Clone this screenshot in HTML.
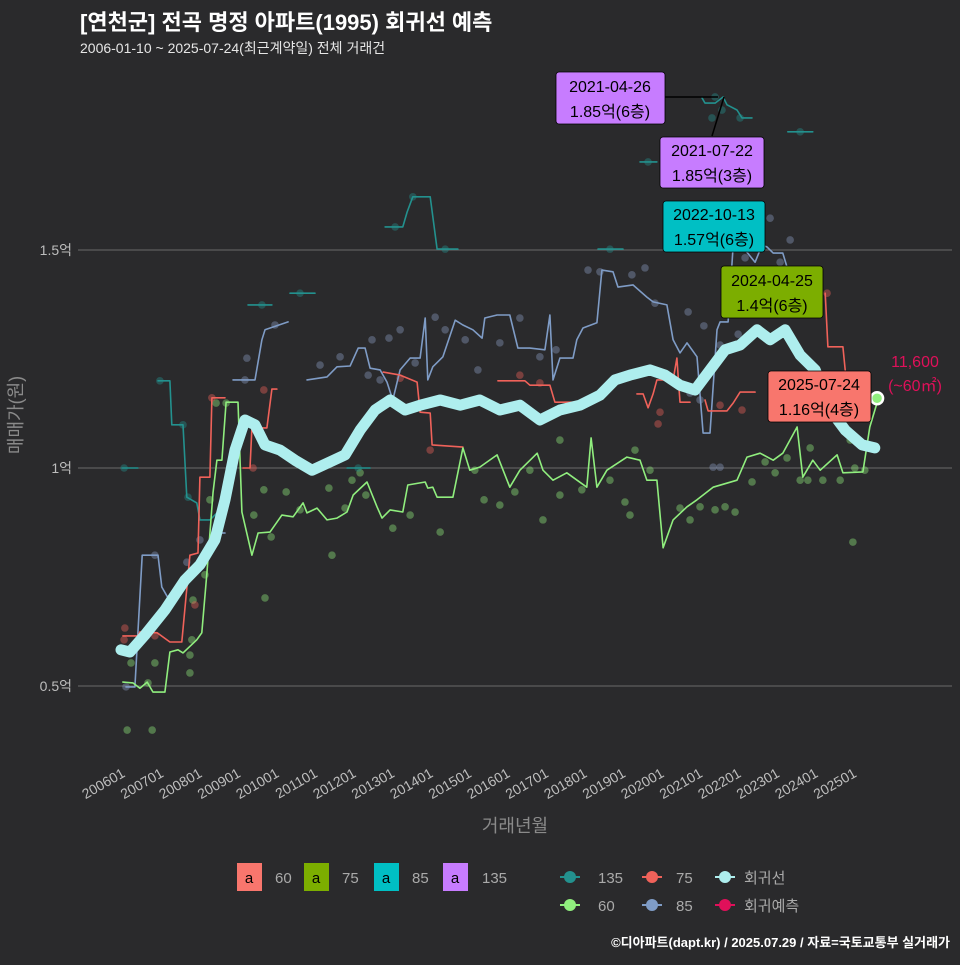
<!DOCTYPE html>
<html><head><meta charset="utf-8">
<style>
html,body{margin:0;padding:0;background:#2a2a2c;}
svg text{font-family:"Liberation Sans","Noto Sans CJK KR",sans-serif;}
</style></head>
<body>
<svg id="chart" width="960" height="960" viewBox="0 0 960 960" xmlns="http://www.w3.org/2000/svg">
<rect width="960" height="960" fill="#2a2a2c"/>
<text x="80" y="30" fill="#ffffff" font-size="22" font-weight="bold">[연천군] 전곡 명정 아파트(1995) 회귀선 예측</text>
<text x="80" y="53" fill="#e6e6e6" font-size="14">2006-01-10 ~ 2025-07-24(최근계약일) 전체 거래건</text>
<g id="grid"></g>
<g id="yticks"></g>
<g id="xticks"></g>
<g id="dots"></g>
<g id="lines"></g>
<text transform="translate(22,415) rotate(-90)" text-anchor="middle" fill="#8a8a8a" font-size="18">매매가(원)</text>
<text x="515" y="832" text-anchor="middle" fill="#8a8a8a" font-size="18">거래년월</text>

<g>
<line x1="665" y1="97" x2="718" y2="97" stroke="#000" stroke-width="1.5"/>
<line x1="712" y1="136" x2="724" y2="97" stroke="#000" stroke-width="1.5"/>
<g>
<rect x="556" y="72" width="109" height="52" rx="3" fill="#c77cff" stroke="#000" stroke-width="0.8"/>
<text x="610" y="92" text-anchor="middle" font-size="16" fill="#000">2021-04-26</text>
<text x="610" y="117" text-anchor="middle" font-size="16" fill="#000">1.85억(6층)</text></g>
<g>
<rect x="660" y="137" width="104" height="51" rx="3" fill="#c77cff" stroke="#000" stroke-width="0.8"/>
<text x="712" y="156" text-anchor="middle" font-size="16" fill="#000">2021-07-22</text>
<text x="712" y="181" text-anchor="middle" font-size="16" fill="#000">1.85억(3층)</text></g>
<g>
<rect x="663" y="201" width="102" height="51" rx="3" fill="#00bfc4" stroke="#000" stroke-width="0.8"/>
<text x="714" y="220" text-anchor="middle" font-size="16" fill="#000">2022-10-13</text>
<text x="714" y="245" text-anchor="middle" font-size="16" fill="#000">1.57억(6층)</text></g>
<g>
<rect x="721" y="266" width="102" height="52" rx="3" fill="#7cae00" stroke="#000" stroke-width="0.8"/>
<text x="772" y="286" text-anchor="middle" font-size="16" fill="#000">2024-04-25</text>
<text x="772" y="311" text-anchor="middle" font-size="16" fill="#000">1.4억(6층)</text></g>
<g>
<rect x="768" y="371" width="103" height="51" rx="3" fill="#f8766d" stroke="#000" stroke-width="0.8"/>
<text x="819" y="390" text-anchor="middle" font-size="16" fill="#000">2025-07-24</text>
<text x="819" y="415" text-anchor="middle" font-size="16" fill="#000">1.16억(4층)</text></g>
<text x="915" y="367" text-anchor="middle" font-size="16" fill="#e0105a">11,600</text>
<text x="915" y="391" text-anchor="middle" font-size="16" fill="#e0105a">(~60㎡)</text>
</g>

<g>
<rect x="237" y="863" width="25" height="28" fill="#f8766d"/><text x="249" y="883" text-anchor="middle" font-size="15" fill="#000">a</text><text x="275" y="883" font-size="15" fill="#aaa">60</text>
<rect x="304" y="863" width="25" height="28" fill="#7cae00"/><text x="316" y="883" text-anchor="middle" font-size="15" fill="#000">a</text><text x="342" y="883" font-size="15" fill="#aaa">75</text>
<rect x="374" y="863" width="25" height="28" fill="#00bfc4"/><text x="386" y="883" text-anchor="middle" font-size="15" fill="#000">a</text><text x="412" y="883" font-size="15" fill="#aaa">85</text>
<rect x="443" y="863" width="25" height="28" fill="#c77cff"/><text x="455" y="883" text-anchor="middle" font-size="15" fill="#000">a</text><text x="482" y="883" font-size="15" fill="#aaa">135</text>
</g>
<g>
<g><line x1="560" y1="877" x2="580" y2="877" stroke="#23918e" stroke-width="2"/><circle cx="570" cy="877" r="6" fill="#23918e"/><text x="598" y="883" font-size="15" fill="#aaa">135</text></g>
<g><line x1="642" y1="877" x2="662" y2="877" stroke="#f0625a" stroke-width="2"/><circle cx="652" cy="877" r="6" fill="#f0625a"/><text x="676" y="883" font-size="15" fill="#aaa">75</text></g>
<g><line x1="715" y1="877" x2="735" y2="877" stroke="#aeeeee" stroke-width="2"/><circle cx="725" cy="877" r="6" fill="#aeeeee"/><text x="744" y="883" font-size="15" fill="#aaa">회귀선</text></g>
<g><line x1="560" y1="905" x2="580" y2="905" stroke="#90ee7e" stroke-width="2"/><circle cx="570" cy="905" r="6" fill="#90ee7e"/><text x="598" y="911" font-size="15" fill="#aaa">60</text></g>
<g><line x1="642" y1="905" x2="662" y2="905" stroke="#7f9cc6" stroke-width="2"/><circle cx="652" cy="905" r="6" fill="#7f9cc6"/><text x="676" y="911" font-size="15" fill="#aaa">85</text></g>
<g><line x1="715" y1="905" x2="735" y2="905" stroke="#e0105a" stroke-width="2"/><circle cx="725" cy="905" r="6" fill="#e0105a"/><text x="744" y="911" font-size="15" fill="#aaa">회귀예측</text></g>
</g>
<text x="950" y="947" text-anchor="end" font-size="13" font-weight="bold" fill="#ffffff">©디아파트(dapt.kr) / 2025.07.29 / 자료=국토교통부 실거래가</text>
</svg>
<script>
const yTickVals=[0.5,1,1.5];
const yTickLabels=["0.5억","1억","1.5억"];
const xTickYears=[2006,2007,2008,2009,2010,2011,2012,2013,2014,2015,2016,2017,2018,2019,2020,2021,2022,2023,2024,2025];
const xTickLabels=["200601","200701","200801","200901","201001","201101","201201","201301","201401","201501","201601","201701","201801","201901","202001","202101","202201","202301","202401","202501"];

const regT=[2006.0,2006.23,2006.62,2007.14,2007.66,2008.05,2008.44,2008.70,2008.96,2009.22,2009.48,2009.74,2010.13,2010.52,2010.96,2011.43,2011.82,2012.21,2012.60,2012.99,2013.38,2013.77,2014.29,2014.81,2015.32,2015.84,2016.36,2016.88,2017.40,2017.92,2018.44,2018.83,2019.22,2019.74,2020.13,2020.52,2020.91,2021.30,2021.69,2022.08,2022.52,2022.86,2023.25,2023.64,2024.03,2024.42,2024.81,2025.25,2025.58];
const regV=[0.583,0.578,0.617,0.674,0.743,0.778,0.835,0.927,1.041,1.110,1.099,1.053,1.041,1.018,0.995,1.014,1.030,1.087,1.133,1.156,1.133,1.144,1.156,1.144,1.156,1.133,1.144,1.110,1.133,1.144,1.167,1.202,1.213,1.225,1.213,1.190,1.179,1.225,1.271,1.282,1.317,1.294,1.317,1.259,1.225,1.133,1.087,1.053,1.046];

const s60T=[2006.05,2006.31,2006.49,2006.68,2006.83,2007.14,2007.27,2007.48,2007.61,2007.97,2008.10,2008.23,2008.39,2008.49,2008.62,2008.73,2009.04,2009.14,2009.40,2009.56,2009.87,2010.18,2010.47,2010.73,2010.83,2011.09,2011.35,2011.61,2011.87,2012.03,2012.39,2012.65,2012.78,2012.99,2013.32,2013.45,2013.90,2013.97,2014.10,2014.21,2014.62,2014.88,2015.06,2015.32,2015.77,2016.10,2016.36,2016.81,2016.96,2017.22,2017.58,2018.10,2018.21,2018.36,2018.62,2019.14,2019.48,2019.66,2019.92,2020.08,2020.34,2020.70,2020.96,2021.38,2022.00,2022.26,2022.60,2022.94,2023.19,2023.56,2023.71,2023.97,2024.16,2024.60,2024.75,2025.27,2025.45,2025.66];
const s60V=[0.509,0.507,0.495,0.509,0.486,0.486,0.578,0.583,0.576,0.606,0.622,0.759,0.943,1.018,1.018,1.151,1.151,0.899,0.800,0.851,0.853,0.892,0.888,0.920,0.897,0.908,0.881,0.885,0.899,0.938,0.968,0.911,0.885,0.904,0.899,0.961,0.968,0.954,0.956,0.933,0.933,1.046,0.995,1.002,1.030,0.956,0.995,1.034,0.995,0.972,0.989,0.956,1.069,0.956,0.995,1.025,1.018,0.972,0.972,0.817,0.881,0.911,0.927,0.956,0.972,1.025,1.034,1.018,1.034,1.094,0.979,1.018,0.995,1.030,0.989,0.991,1.094,1.156];

const s75T=[2006.05,2006.44,2006.49,2006.94,2007.27,2007.58,2007.79,2008.00,2008.05,2008.31,2008.36,2008.70,null,2009.17,2009.35,2009.40,2009.79,2009.92,2010.05,null,2012.81,2013.25,2013.69,2013.77,2014.03,2014.08,2014.88,null,2015.79,2016.49,2016.62,2017.14,2017.27,2018.00,null,2019.40,2019.56,2019.69,2019.82,2019.92,2020.34,2020.44,2020.52,2020.78,null,2021.17,2021.25,2021.74,2021.90,2022.08,2022.47,null,2024.29,2024.36,2024.75,2024.81];
const s75V=[0.615,0.615,0.624,0.622,0.601,0.601,0.800,0.805,0.979,0.979,1.161,1.161,null,1.000,1.000,1.092,1.092,1.181,1.181,null,1.220,1.213,1.197,1.128,1.126,1.053,1.048,null,1.200,1.200,1.190,1.190,1.151,1.151,null,1.170,1.170,1.138,1.170,1.202,1.202,1.252,1.151,1.151,null,1.156,1.131,1.131,1.149,1.174,1.174,null,1.401,1.278,1.278,1.225];

const s85T=[2006.13,2006.36,2006.55,2006.96,2007.06,2007.22,2007.40,2007.87,2008.23,2008.39,2008.70,null,2008.91,2009.48,2009.66,2009.74,2010.34,null,2010.83,2011.35,2011.61,2011.95,2012.16,2012.34,2012.47,2012.73,2012.91,2013.06,2013.25,2013.51,2013.77,2013.90,2013.97,2014.10,2014.36,2014.68,2014.88,2015.14,2015.38,2015.45,2015.77,2016.10,2016.31,2016.62,2017.01,2017.14,2017.22,2017.40,2017.74,2017.84,2018.00,2018.36,2018.49,2018.78,2018.91,2019.30,2019.66,2019.82,2020.18,2020.34,2020.52,2020.70,2020.96,2021.12,2021.30,2021.48,2021.56,2021.77,2021.90,2022.21,2022.47,2022.65,2022.78,2022.94,2023.19,2023.30];
const s85V=[0.498,0.498,0.800,0.800,0.727,0.702,0.727,0.766,0.796,0.851,0.851,null,1.202,1.202,1.294,1.317,1.335,null,1.202,1.209,1.232,1.234,1.275,1.275,1.229,1.225,1.197,1.156,1.225,1.252,1.252,1.344,1.202,1.232,1.255,1.339,1.328,1.317,1.298,1.344,1.351,1.351,1.275,1.275,1.271,1.351,1.202,1.252,1.252,1.294,1.321,1.333,1.454,1.450,1.415,1.420,1.392,1.381,1.374,1.294,1.264,1.287,1.255,1.080,1.080,1.317,1.335,1.335,1.511,1.500,1.472,1.511,1.507,1.493,1.493,1.461];

const s135T=[2006.03,2006.44,null,2006.96,2007.27,2007.32,2007.61,2007.71,2007.97,2008.05,2008.31,2008.52,null,2009.30,2009.92,null,2010.39,2011.04,null,2011.87,2012.47,null,2012.86,2013.32,2013.43,2013.58,2014.03,2014.21,2014.75,null,2018.39,2019.04,null,2019.48,2019.92,null,2021.09,2021.17,2021.43,2021.64,2021.74,2022.00,2022.13,2022.39,null,2023.32,2023.97];
const s135V=[1.0,1.0,null,1.200,1.200,1.099,1.099,0.933,0.920,0.881,0.881,0.899,null,1.374,1.374,null,1.401,1.401,null,1.0,1.0,null,1.553,1.553,1.587,1.622,1.622,1.502,1.502,null,1.502,1.502,null,1.702,1.702,null,1.849,1.837,1.837,1.851,1.833,1.821,1.803,1.803,null,1.771,1.771];

const d60T=[2006.16,2006.81,2006.26,2006.88,2006.70,2007.79,2007.79,2007.84,2007.87,2008.18,2008.31,2008.47,2008.73,2009.45,2009.71,2009.90,2009.74,2010.29,2010.65,2011.40,2011.48,2012.00,2012.36,2011.82,2012.21,2013.06,2013.51,2014.29,2015.19,2015.43,2015.84,2016.23,2016.62,2016.96,2017.40,2017.97,2018.70,2019.09,2019.22,2019.74,2020.52,2020.78,2021.04,2021.43,2021.69,2021.95,2022.39,2022.73,2022.99,2023.30,2023.64,2023.84,2024.23,2024.68,2025.01,2025.06,2025.32,2024.94,2023.90,2019.35,2017.40];
const d60V=[0.399,0.399,0.553,0.553,0.507,0.571,0.530,0.606,0.697,0.755,0.927,1.149,1.149,0.892,0.950,0.842,0.702,0.945,0.904,0.954,0.800,0.972,0.938,0.908,0.989,0.862,0.892,0.853,0.995,0.927,0.915,0.945,0.995,0.881,0.938,0.950,0.972,0.922,0.892,0.995,0.908,0.881,0.911,0.904,0.911,0.899,0.968,1.014,0.989,1.023,0.972,0.972,0.972,0.972,0.830,1.000,0.995,1.064,1.046,1.041,1.064];
const d85T=[2006.13,2006.88,2007.35,2007.53,2007.71,2008.05,2009.27,2010.00,2009.22,2011.17,2011.69,2012.42,2012.73,2012.52,2012.96,2013.25,2013.64,2014.16,2014.42,2014.94,2015.27,2015.84,2016.36,2016.88,2017.30,2018.13,2018.44,2019.27,2019.61,2019.87,2020.73,2021.56,2022.03,2022.86,2023.12,2023.38,2022.21,2021.38,2021.56,2020.78,2021.04,2021.14];
const d85V=[0.498,0.800,0.704,0.732,0.784,0.835,1.252,1.328,1.202,1.236,1.255,1.213,1.202,1.294,1.298,1.317,1.241,1.346,1.317,1.294,1.225,1.287,1.344,1.255,1.271,1.454,1.450,1.443,1.459,1.378,1.358,1.282,1.307,1.573,1.472,1.523,1.482,1.002,1.002,1.172,1.156,1.326];
const d75T=[2006.10,2006.08,2006.88,2007.92,2008.36,2009.71,2009.43,2013.25,2014.03,2016.36,2016.88,2020.00,2019.95,2021.56,2022.13,2024.34,2024.47];
const d75V=[0.633,0.606,0.615,0.686,1.161,1.179,1.0,1.206,1.041,1.213,1.195,1.128,1.101,1.144,1.133,1.401,1.128];
const d135T=[2006.08,2007.01,2007.61,2007.74,2009.66,2010.65,2012.16,2013.12,2013.58,2014.42,2018.70,2019.69,2021.43,2021.35,2022.08,2023.64,2021.61];
const d135V=[1.0,1.200,1.099,0.933,1.374,1.401,1.0,1.553,1.622,1.502,1.502,1.702,1.851,1.803,1.803,1.771,1.821];
const predT=[2025.56];
const predV=[1.16];

const NS="http://www.w3.org/2000/svg";
function X(t){return 121+(t-2006)*38.5;}
function Y(v){return 468-(v-1)*436;}
function mk(tag,attrs,parent){const e=document.createElementNS(NS,tag);for(const k in attrs)e.setAttribute(k,attrs[k]);parent.appendChild(e);return e;}

const grid=document.getElementById('grid');
const yt=document.getElementById('yticks');
yTickVals.forEach((v,i)=>{
  const l=mk('line',{x1:78,x2:952,y1:Y(v),y2:Y(v),stroke:'#6a6a6a','stroke-width':1},grid);
  
  
  const t=mk('text',{x:72,y:Y(v)+5,'text-anchor':'end','font-size':14,fill:'#bdbdbd'},yt);
  t.textContent=yTickLabels[i];
  
  
});
const xt=document.getElementById('xticks');
xTickYears.forEach((yr,i)=>{
  const x=X(yr);
  const t=mk('text',{transform:`translate(${x+5},${776}) rotate(-30)`,'text-anchor':'end','font-size':14,fill:'#bdbdbd'},xt);
  t.textContent=xTickLabels[i];
  
  
});

const dots=document.getElementById('dots');
function drawDots(T,V,color,name){
  T.forEach((t,i)=>{
    const c=mk('circle',{cx:X(t),cy:Y(V[i]),r:3.8,fill:color,'fill-opacity':0.4},dots);
    
    
  });
}
drawDots(d60T,d60V,'#90ee7e','point-60');
drawDots(d85T,d85V,'#8a9cc0','point-85');
drawDots(d75T,d75V,'#f0625a','point-75');
drawDots(d135T,d135V,'#23918e','point-135');

const lines=document.getElementById('lines');
function pathD(T,V){
  let d='',pen=false;
  T.forEach((t,i)=>{
    if(t===null||V[i]===null){pen=false;return;}
    d+=(pen?'L':'M')+X(t).toFixed(1)+','+Y(V[i]).toFixed(1);
    pen=true;
  });
  return d;
}
function drawLine(T,V,color,w,name){
  const p=mk('path',{d:pathD(T,V),fill:'none',stroke:color,'stroke-width':w,'stroke-linejoin':'round','stroke-linecap':'round'},lines);
  
  
}
drawLine(s135T,s135V,'#23918e',1.6,'line-135');
drawLine(s85T,s85V,'#7f9cc6',1.6,'line-85');
drawLine(s75T,s75V,'#f0625a',1.6,'line-75');
drawLine(s60T,s60V,'#90ee7e',1.6,'line-60');
drawLine(regT,regV,'#aeeeee',11,'regression-line');
predT.forEach((t,i)=>{
  const c=mk('circle',{cx:X(t)+3,cy:Y(predV[i]),r:6,fill:'#90ee7e',stroke:'#ffffff','stroke-width':2.5},lines);
  
  
});
</script>
</body></html>
